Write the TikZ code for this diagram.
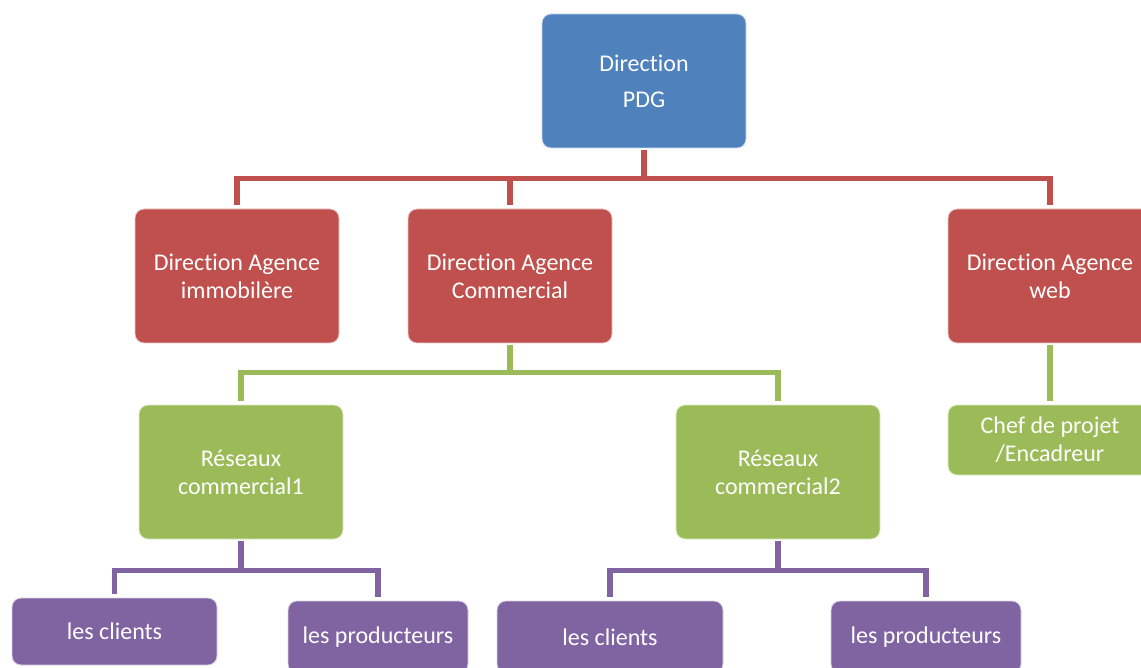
\documentclass[tikz,border=0pt]{standalone}
\usepackage{fontspec}
\setmainfont{Carlito}[Ligatures={NoCommon,NoDiscretionary,NoRare}]
\usetikzlibrary{positioning,calc}
\definecolor{bleu}{HTML}{4F81BD}
\definecolor{rouge}{HTML}{C0504D}
\definecolor{vert}{HTML}{9BBB59}
\definecolor{violet}{HTML}{8064A2}

\begin{document}
\begin{tikzpicture}[x=1pt,y=-1pt,
    boite/.style={rounded corners=9pt,draw=white!70!#1,line width=0.8pt,fill=#1,text=white,
      align=center,inner sep=0pt,font=\fontsize{24}{28}\selectfont},
    grande/.style={boite=#1,minimum width=204,minimum height=134},
    lien/.style={draw=#1,line width=5.5pt,shorten <=2pt,shorten >=4pt}]
  \useasboundingbox (0,0) rectangle (1141,668);
  \clip (0,0) rectangle (1141,668);
  % niveau 1
  \node[grande=bleu] (pdg) at (644,81) {Direction\\[8pt]PDG};
  % niveau 2
  \node[grande=rouge] (imm) at (237,276) {Direction Agence\\immobilère};
  \node[grande=rouge] (com) at (510,276) {Direction Agence\\Commercial};
  \node[grande=rouge] (web) at (1050,276) {Direction Agence\\web};
  % niveau 3
  \node[grande=vert] (res1) at (241,472) {Réseaux\\commercial1};
  \node[grande=vert] (res2) at (778,472) {Réseaux\\commercial2};
  \node[boite=vert,minimum width=204,minimum height=70] (chef) at (1050,440) {Chef de projet\\/Encadreur};
  % niveau 4
  \node[boite=violet,minimum width=205,minimum height=67] (cli1) at (114.5,631.5) {les clients};
  \node[boite=violet,minimum width=180,minimum height=72] (pro1) at (378,637) {les producteurs};
  \node[boite=violet,minimum width=226,minimum height=72] (cli2) at (610,637) {les clients};
  \node[boite=violet,minimum width=190,minimum height=72] (pro2) at (926,637) {les producteurs};

  \draw[lien=rouge] (pdg.south) -- ++(0,30) -| (imm.north);
  \draw[lien=rouge] (pdg.south) -- ++(0,30) -| (com.north);
  \draw[lien=rouge] (pdg.south) -- ++(0,30) -| (web.north);
  \draw[lien=vert] (com.south) -- ++(0,29) -| (res1.north);
  \draw[lien=vert] (com.south) -- ++(0,29) -| (res2.north);
  \draw[lien=vert] (web.south) -- (chef.north);
  \draw[lien=violet] (res1.south) -- ++(0,31) -| (cli1.north);
  \draw[lien=violet] (res1.south) -- ++(0,31) -| (pro1.north);
  \draw[lien=violet] (res2.south) -- ++(0,31) -| (cli2.north);
  \draw[lien=violet] (res2.south) -- ++(0,31) -| (pro2.north);
\end{tikzpicture}
\end{document}
